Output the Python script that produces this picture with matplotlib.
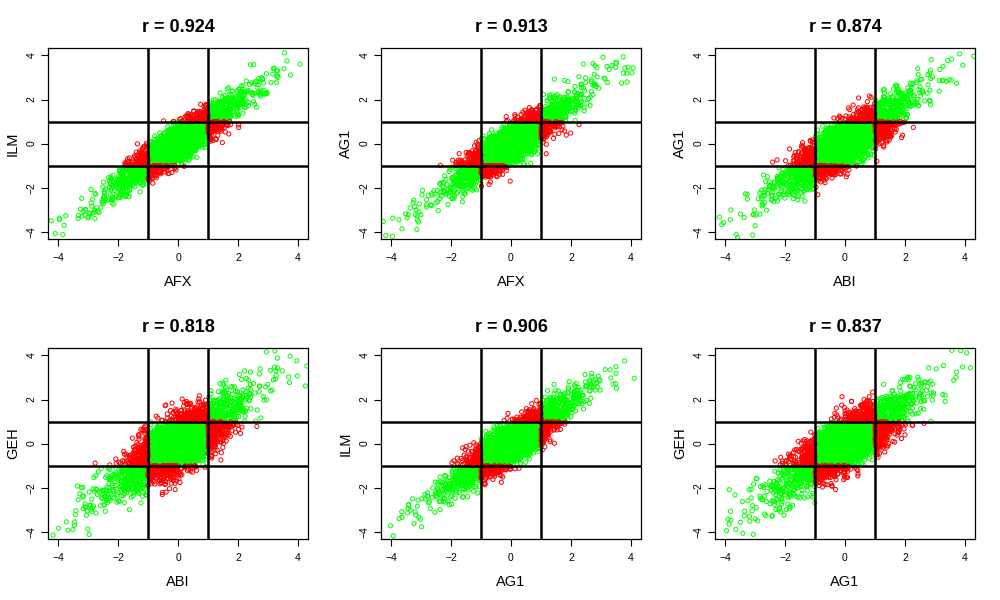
import numpy as np
import matplotlib
matplotlib.use("Agg")
import matplotlib.pyplot as plt

plt.rcParams['font.family'] = ['Liberation Sans', 'DejaVu Sans']

# Panel definitions
x_labels = ["AFX", "AFX", "ABI", "ABI", "AG1", "AG1"]
y_labels = ["ILM", "AG1", "AG1", "GEH", "ILM", "GEH"]
r_values = [0.924, 0.913, 0.874, 0.818, 0.906, 0.837]
x_ticks = [-4, -2, 0, 2, 4]
y_ticks = [-4, -2, 0, 2, 4]
cut_lo, cut_hi = -1, 1
n_points = 4000

fig = plt.figure(figsize=(10, 6), dpi=100)
lefts = [0.048, 0.381, 0.715]
bottoms = [0.6017, 0.1017]
w, h = 0.26, 0.318

# The individual points of the cloud cannot be read; the cloud is a fixed-seed
# sample (heavy-tailed shared signal plus noise) with the correlation printed
# in each panel title.
rng = np.random.default_rng(5)
df = 4
scale = 0.68
sd_t = scale * np.sqrt(df / (df - 2))

for i in range(6):
    row, col = divmod(i, 3)
    ax = fig.add_axes([lefts[col], bottoms[row], w, h])
    r = r_values[i]
    t = scale * rng.standard_t(df, n_points)
    sig = sd_t * np.sqrt((1 - r) / r)
    x = t + sig * rng.standard_normal(n_points)
    y = t + sig * rng.standard_normal(n_points)
    keep = (np.abs(x) < 4.3) & (np.abs(y) < 4.3)
    x, y = x[keep], y[keep]
    outx = np.abs(x) > cut_hi
    outy = np.abs(y) > cut_hi
    red = outx ^ outy
    ax.scatter(x[~red], y[~red], s=9, facecolors='none', edgecolors='#00ff00', linewidths=0.7)
    ax.scatter(x[red], y[red], s=9, facecolors='none', edgecolors='#ff0000', linewidths=0.7)
    for v in (cut_lo, cut_hi):
        ax.axvline(v, color='black', lw=1.8)
        ax.axhline(v, color='black', lw=1.8)
    ax.set_xlim(-4.33, 4.33)
    ax.set_ylim(-4.33, 4.33)
    ax.set_xticks(x_ticks)
    ax.set_yticks(y_ticks)
    ax.tick_params(axis='x', labelsize=7.5, length=5, width=0.8, direction='out', pad=5)
    ax.tick_params(axis='y', labelsize=7.5, length=5, width=0.8, direction='out', pad=3)
    for lab in ax.get_yticklabels():
        lab.set_rotation(90)
        lab.set_va('center')
    ax.set_xlabel(x_labels[i], fontsize=10.5, labelpad=9)
    ax.set_ylabel(y_labels[i], fontsize=10.5, labelpad=5)
    ax.set_title(f"r = {r:.3f}", fontsize=13, fontweight='bold', pad=12)
    for s in ax.spines.values():
        s.set_linewidth(0.9)

fig.savefig("out.png", dpi=100)
